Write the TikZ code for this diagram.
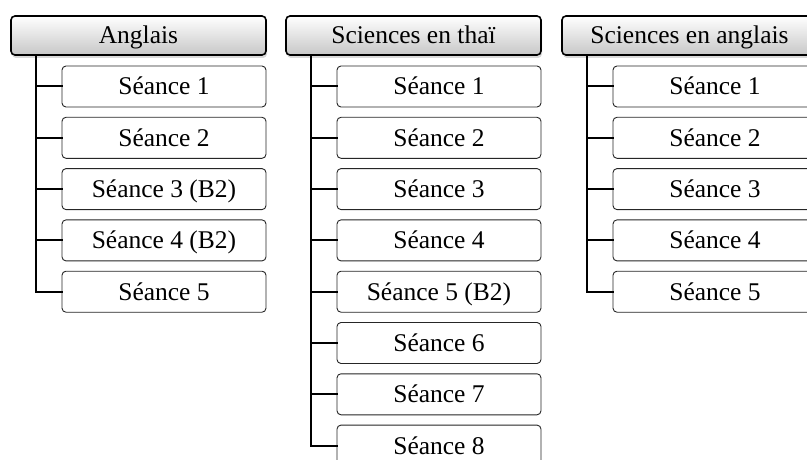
\documentclass[tikz,border=0pt]{standalone}
\usepackage{fontspec}
\setmainfont{Liberation Serif}
\usetikzlibrary{shadows}
\begin{document}
\begin{tikzpicture}[x=1pt,y=-1pt,
  txt/.style={font=\fontsize{25.5}{30}\selectfont, text height=16.8pt, text depth=0pt},
  hdr/.style={txt, draw=black, line width=1.6pt, rounded corners=4pt,
    minimum width=255pt, minimum height=39pt, inner sep=0pt,
    top color=white, bottom color=black!22,
    drop shadow={opacity=0.3, shadow xshift=1pt, shadow yshift=-3pt}},
  item/.style={txt, draw=black!85, line width=0.9pt, rounded corners=4pt,
    minimum width=204pt, minimum height=41pt, inner sep=0pt, fill=white},
  conn/.style={line width=2pt, line cap=rect}]
\useasboundingbox (0,0) rectangle (807,460);
\clip (0,0) rectangle (807,460);
% column A
\node[hdr] (a0) at (138.5,35.5) {Anglais};
\foreach \i/\t in {1/Séance 1,2/Séance 2,3/Séance 3 (B2),4/Séance 4 (B2),5/Séance 5}
  \node[item] (a\i) at (164,{86.5+(\i-1)*51.3}) {\t};
\coordinate (av) at ([xshift=26pt]a0.south west);
\draw[conn] (av) |- (a5.west);
\foreach \i in {1,...,4} \draw[conn] (av |- a\i.west) -- (a\i.west);
% column B
\node[hdr] (b0) at (413.5,35.5) {Sciences en thaï};
\foreach \i/\t in {1/Séance 1,2/Séance 2,3/Séance 3,4/Séance 4,5/Séance 5 (B2),6/Séance 6,7/Séance 7,8/Séance 8}
  \node[item] (b\i) at (439,{86.5+(\i-1)*51.3}) {\t};
\coordinate (bv) at ([xshift=26pt]b0.south west);
\draw[conn] (bv) |- (b8.west);
\foreach \i in {1,...,7} \draw[conn] (bv |- b\i.west) -- (b\i.west);
% column C
\node[hdr] (c0) at (689.5,35.5) {Sciences en anglais};
\foreach \i/\t in {1/Séance 1,2/Séance 2,3/Séance 3,4/Séance 4,5/Séance 5}
  \node[item] (c\i) at (715,{86.5+(\i-1)*51.3}) {\t};
\coordinate (cv) at ([xshift=26pt]c0.south west);
\draw[conn] (cv) |- (c5.west);
\foreach \i in {1,...,4} \draw[conn] (cv |- c\i.west) -- (c\i.west);
\end{tikzpicture}
\end{document}
